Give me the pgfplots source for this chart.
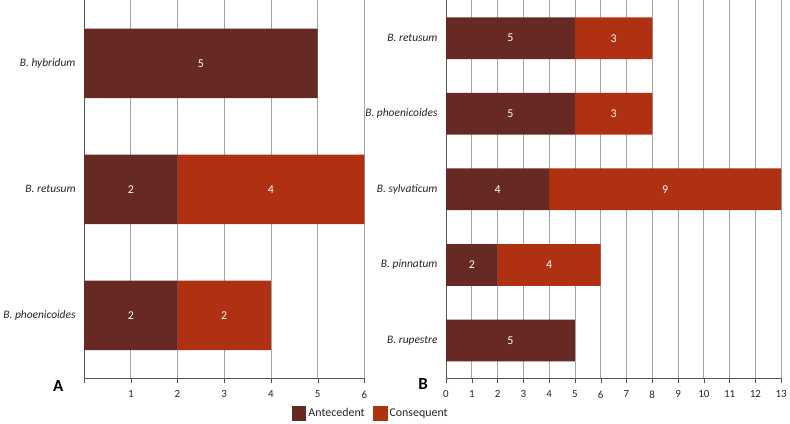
\documentclass[border=0pt]{standalone}
\usepackage{pgfplots}
\pgfplotsset{compat=1.18}
\usepackage{fontspec}
\setmainfont{Carlito}
\definecolor{ante}{RGB}{103,41,36}
\definecolor{cons}{RGB}{176,48,18}
\definecolor{gridc}{RGB}{165,165,165}
\definecolor{axc}{RGB}{85,85,85}
\begin{document}
\begin{tikzpicture}
\path (0pt,0pt) rectangle (790pt,425pt);
\pgfplotsset{
 mystyle/.style={
  xbar stacked, scale only axis, height=380pt,
  y dir=reverse, axis x line*=bottom, axis y line*=left,
  axis line style={axc,-},
  xmajorgrids, grid style={gridc, line width=0.8pt},
  tick align=outside, xtick style={axc}, major tick length=5pt,
  ytick=data, ytick style={draw=none},
  yticklabel style={font=\itshape\fontsize{11.5}{13}\selectfont, text=black!85},
  xticklabel style={font=\fontsize{11}{13}\selectfont, text=black!85, yshift=-4pt},
  /pgf/number format/assume math mode=true,
  point meta=explicit,
  nodes near coords={\pgfmathfloatifflags{\pgfplotspointmeta}{0}{}{\pgfmathprintnumber{\pgfplotspointmeta}}},
  every node near coord/.style={anchor=center, text=white, font=\fontsize{12}{14}\selectfont},
  xmin=0,
  area legend,
 }
}
\begin{axis}[mystyle, at={(82pt,45pt)}, anchor=south west, width=282pt,
  xmax=6, xtick={0,...,6}, xticklabels={,1,2,3,4,5,6},
  ymin=-0.5, ymax=2.5, bar width=70pt,
  yticklabels={B. hybridum, B. retusum, B. phoenicoides},
  legend style={at={(1.022,-0.092)}, anchor=center, draw=none, legend columns=2,
     font=\fontsize{12}{14}\selectfont, text=black!85,
     /tikz/every even column/.append style={column sep=6pt}},
  legend image code/.code={\fill[#1] (0pt,-7.5pt) rectangle (15pt,7.5pt);},
]
\addplot[fill=ante, draw=none] coordinates {(5,0) [5] (2,1) [2] (2,2) [2]};
\addlegendentry{Antecedent}
\addplot[fill=cons, draw=none] coordinates {(0,0) [0] (4,1) [4] (2,2) [2]};
\addlegendentry{Consequent}
\end{axis}
\begin{axis}[mystyle, at={(446pt,45pt)}, anchor=south west, width=337pt,
  xmax=13, xtick={0,...,13},
  ymin=-0.5, ymax=4.5, bar width=42pt,
  yticklabels={B. retusum, B. phoenicoides, B. sylvaticum, B. pinnatum, B. rupestre},
]
\addplot[fill=ante, draw=none] coordinates {(5,0) [5] (5,1) [5] (4,2) [4] (2,3) [2] (5,4) [5]};
\addplot[fill=cons, draw=none] coordinates {(3,0) [3] (3,1) [3] (9,2) [9] (4,3) [4] (0,4) [0]};
\end{axis}
\node[font=\bfseries\fontsize{17}{20}\selectfont] at (56pt,37pt) {A};
\node[font=\bfseries\fontsize{17}{20}\selectfont] at (423pt,39pt) {B};
\end{tikzpicture}
\end{document}
